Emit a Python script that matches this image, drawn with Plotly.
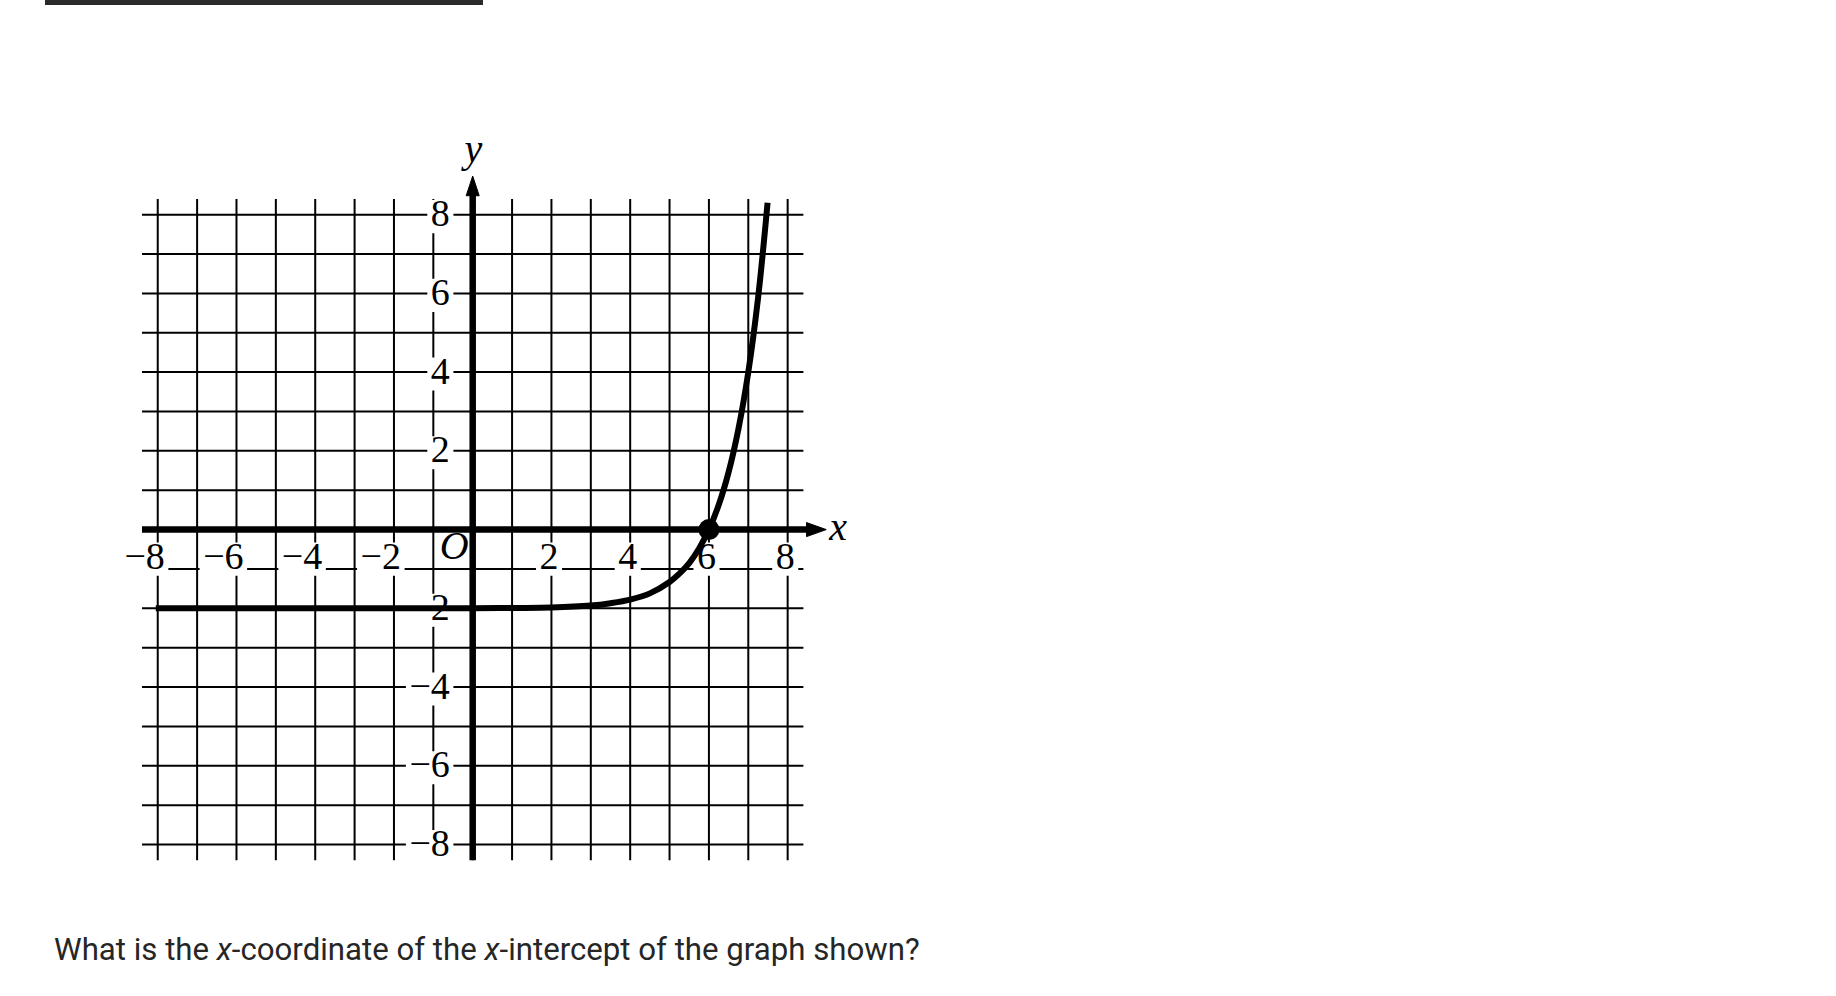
import plotly.graph_objects as go

# ---------------- data ----------------
grid_ticks = list(range(-8, 9))          # unit grid lines
grid_extent = 8.4                         # grid paper runs a little past ±8
axis_tip = 8.98                           # arrow tips of both axes

y_tick_values = [8, 6, 4, 2, -2, -4, -6, -8]
y_tick_labels = ["8", "6", "4", "2", "−2", "−4", "−6", "−8"]
x_tick_values = [-8, -6, -4, -2, 2, 4, 6, 8]
x_tick_labels = ["−8", "−6", "−4", "−2", "2", "4", "6", "8"]

curve_x = [-8.05, -6, -4, -2, 0, 1, 2, 3, 3.5, 4, 4.5, 5, 5.25, 5.5, 5.75,
           6, 6.25, 6.5, 6.75, 7, 7.25, 7.49]
curve_y = [-2.0, -2.0, -2.0, -2.0, -2.0, -1.99, -1.98, -1.93, -1.87, -1.78,
           -1.62, -1.33, -1.12, -0.85, -0.48, 0.0, 0.63, 1.46, 2.56, 4.0,
           5.9, 8.3]

intercept_x = [6]
intercept_y = [0]

question = ("What is the <i>x</i>-coordinate of the <i>x</i>-intercept "
            "of the graph shown?")

# ---------------- layout constants ----------------
W, H = 1836, 996
U = 39.37                 # pixels per unit
OX, OY = 472.7, 529.6     # page position of the origin
x_range = [-OX / U, (W - OX) / U]
y_range = [-(H - OY) / U, OY / U]

LABEL_FONT = dict(family="Liberation Serif, Times New Roman, serif", size=38, color="black")
DIGIT_W, MINUS_W, GLYPH_H = 0.483, 0.544, 0.66


def label_width(s):
    return sum(MINUS_W if ch == "−" else DIGIT_W for ch in s)


fig = go.Figure()

# grid lines
gx, gy = [], []
for t in grid_ticks:
    gx += [t, t, None]
    gy += [-grid_extent, grid_extent, None]
    gx += [-grid_extent, grid_extent, None]
    gy += [t, t, None]
fig.add_trace(go.Scatter(x=gx, y=gy, mode="lines",
                         line=dict(color="black", width=2),
                         hoverinfo="skip", showlegend=False))

# label anchor positions (right edge of text)
y_lab_x = [-0.58] * len(y_tick_values)
y_lab_y = [v - 0.05 for v in y_tick_values]
x_lab_x = [v + 0.18 for v in x_tick_values]
x_lab_y = [-0.75] * len(x_tick_values)

# white masks behind the tick labels
mx, my = [], []
pad = 0.09
for xs, ys, labs in [(y_lab_x, y_lab_y, y_tick_labels), (x_lab_x, x_lab_y, x_tick_labels)]:
    for xr, yc, s in zip(xs, ys, labs):
        w = label_width(s)
        x0, x1 = xr - w - pad, xr + pad
        y0, y1 = yc - GLYPH_H / 2 - pad, yc + GLYPH_H / 2 + pad
        mx += [x0, x1, x1, x0, x0, None]
        my += [y0, y0, y1, y1, y0, None]
fig.add_trace(go.Scatter(x=mx, y=my, mode="lines", fill="toself",
                         fillcolor="white", line=dict(width=0, color="white"),
                         hoverinfo="skip", showlegend=False))

# tick labels
fig.add_trace(go.Scatter(x=y_lab_x, y=y_lab_y, mode="text", text=y_tick_labels,
                         textposition="middle left", textfont=LABEL_FONT,
                         hoverinfo="skip", showlegend=False))
fig.add_trace(go.Scatter(x=x_lab_x, y=x_lab_y, mode="text", text=x_tick_labels,
                         textposition="middle left", textfont=LABEL_FONT,
                         hoverinfo="skip", showlegend=False))

# axis names and origin
fig.add_trace(go.Scatter(x=[-0.47, 9.28, 0.02], y=[-0.48, -0.02, 9.59], mode="text",
                         text=["<i>O</i>", "<i>x</i>", "<i>y</i>"],
                         textposition="middle center",
                         textfont=dict(family="Liberation Serif, Times New Roman, serif",
                                       size=40, color="black"),
                         hoverinfo="skip", showlegend=False))

# axes
base = axis_tip - 0.5
fig.add_trace(go.Scatter(x=[-grid_extent, base + 0.05, None, 0, 0],
                         y=[0, 0, None, -grid_extent, base + 0.05],
                         mode="lines", line=dict(color="black", width=6.5),
                         hoverinfo="skip", showlegend=False))
# arrow heads
fig.add_trace(go.Scatter(x=[axis_tip, base, base, axis_tip, None, 0, -0.165, 0.165, 0],
                         y=[0, 0.178, -0.178, 0, None, axis_tip, base, base, axis_tip],
                         mode="lines", fill="toself", fillcolor="black",
                         line=dict(color="black", width=1),
                         hoverinfo="skip", showlegend=False))

# the graph
fig.add_trace(go.Scatter(x=curve_x, y=curve_y, mode="lines",
                         line=dict(color="black", width=6, shape="spline", smoothing=1),
                         hoverinfo="skip", showlegend=False))
fig.add_trace(go.Scatter(x=intercept_x, y=intercept_y, mode="markers",
                         marker=dict(color="black", size=21),
                         hoverinfo="skip", showlegend=False))

fig.update_layout(
    width=W, height=H,
    margin=dict(l=0, r=0, t=0, b=0, pad=0),
    paper_bgcolor="white", plot_bgcolor="white",
    xaxis=dict(range=x_range, visible=False, fixedrange=True),
    yaxis=dict(range=y_range, visible=False, fixedrange=True),
    showlegend=False,
    shapes=[dict(type="rect", xref="paper", yref="paper",
                 x0=45 / W, x1=483 / W, y0=1 - 5 / H, y1=1.0,
                 fillcolor="#2b2b2b", line=dict(width=0))],
    annotations=[dict(text=question, xref="paper", yref="paper",
                      x=52 / W, y=1 - 949.6 / H, xanchor="left", yanchor="middle",
                      showarrow=False,
                      font=dict(family="Roboto, Arial, sans-serif", size=31.2, color="#262626"))],
)

fig.write_html("out.html", config={"displayModeBar": False},
               post_script="document.body.style.margin='0';document.body.style.overflow='hidden';")
